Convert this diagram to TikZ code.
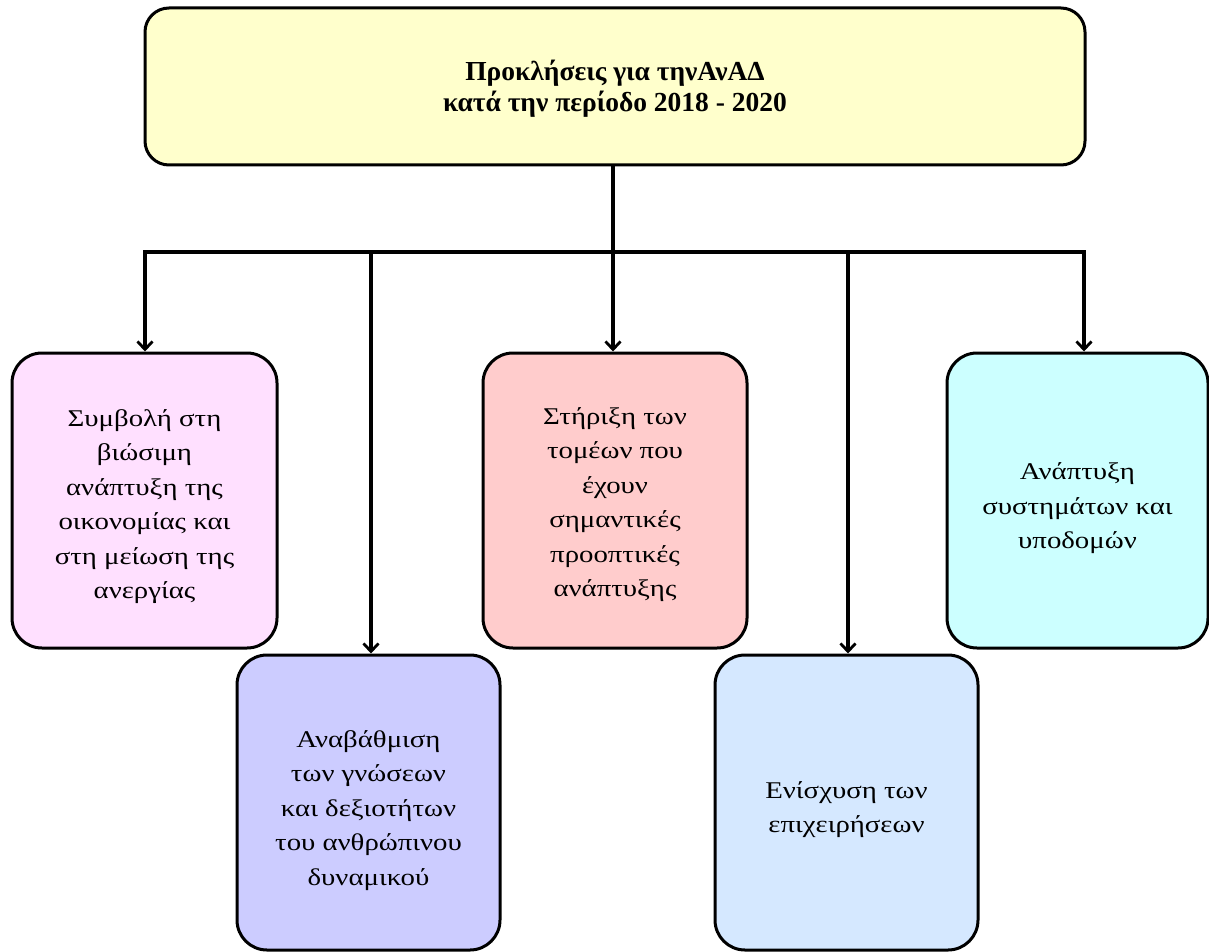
\documentclass[tikz,border=0pt]{standalone}
\usepackage{fontspec}
\setmainfont{Liberation Serif}
\newfontfamily\bodyfont[FakeStretch=1.2]{Liberation Serif}
\usetikzlibrary{arrows.meta}
\definecolor{cTop}{HTML}{FFFFCC}
\definecolor{cPink}{HTML}{FFE0FF}
\definecolor{cLav}{HTML}{CCCCFF}
\definecolor{cSal}{HTML}{FFCCCC}
\definecolor{cBlue}{HTML}{D5E8FF}
\definecolor{cCyan}{HTML}{CCFFFF}
\tikzset{
  box/.style={draw=black, line width=3pt, rounded corners=30pt,
    minimum width=263pt, minimum height=295pt, inner sep=0pt},
  boxtext/.style={align=center, inner sep=0pt,
    font=\bodyfont\fontsize{24}{34.5}\selectfont},
  topbox/.style={draw=black, line width=3pt, rounded corners=24pt, align=center,
    fill=cTop, minimum width=940pt, minimum height=157pt, inner sep=0pt},
  toptext/.style={align=center, inner sep=0pt,
    font=\bfseries\fontsize{27.5}{31}\selectfont},
  conn/.style={line width=3.2pt},
  arr/.style={line width=3.2pt, -{Straight Barb[length=8pt,width=15pt,line width=2.8pt]}}
}
\begin{document}
\begin{tikzpicture}[x=1pt,y=-1pt]
\useasboundingbox (0,0) rectangle (1209,952);
\node[topbox] (top) at (615,86.5) {};
\node[toptext] (toptx) at ([yshift=-2pt]top.center) {Προκλήσεις για τηνΑνΑΔ\\κατά την περίοδο 2018 - 2020};
\node[box, fill=cPink, minimum width=265pt] (b1) at (144.5,500.5) {};
\node[box, fill=cLav] (b2) at (368.5,802.5) {};
\node[box, fill=cSal, minimum width=264pt] (b3) at (615,500.5) {};
\node[box, fill=cBlue] (b4) at (846.5,802.5) {};
\node[box, fill=cCyan, minimum width=261pt] (b5) at (1077.5,500.5) {};
\node[boxtext] (t1) at ([yshift=-6pt]b1.center) {Συμβολή στη\\βιώσιμη\\ανάπτυξη της\\οικονομίας και\\στη μείωση της\\ανεργίας};
\node[boxtext] (t2) at ([yshift=-8pt]b2.center) {Αναβάθμιση\\των γνώσεων\\και δεξιοτήτων\\του ανθρώπινου\\δυναμικού};
\node[boxtext] (t3) at ([yshift=-4pt]b3.center) {Στήριξη των\\τομέων που\\έχουν\\σημαντικές\\προοπτικές\\ανάπτυξης};
\node[boxtext] (t4) at ([yshift=-7pt]b4.center) {Ενίσχυση των\\επιχειρήσεων};
\node[boxtext] (t5) at ([yshift=-8pt]b5.center) {Ανάπτυξη\\συστημάτων και\\υποδομών};
\coordinate (j) at (613,252);
\coordinate (l) at (145,252);
\coordinate (r) at (1084,252);
\coordinate (a2) at (371,252);
\coordinate (a4) at (848,252);
\draw[conn] (top.south -| j) -- (j);
\draw[conn, line cap=rect] (l) -- (r);
\draw[arr] (l) -- (l |- b1.north);
\draw[arr] (a2) -- (a2 |- b2.north);
\draw[arr] (j) -- (j |- b3.north);
\draw[arr] (a4) -- (a4 |- b4.north);
\draw[arr] (r) -- (r |- b5.north);
\end{tikzpicture}
\end{document}
